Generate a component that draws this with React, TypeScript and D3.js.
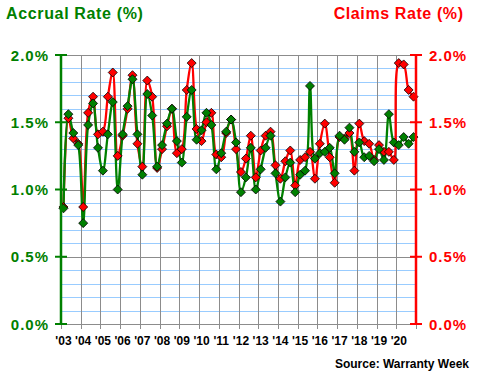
import React from 'react';
import * as d3 from 'd3';

const yearLabels = ["'03", "'04", "'05", "'06", "'07", "'08", "'09", "'10", "'11", "'12", "'13", "'14", "'15", "'16", "'17", "'18", "'19", "'20"];

// Quarterly accrual rate (%), 2003 Q1 - 2020 Q4
const accrual = [
  0.86, 1.56, 1.42, 1.33,
  0.75, 1.48, 1.64, 1.31,
  1.14, 1.41, 1.65, 1.00,
  1.41, 1.62, 1.82, 1.41,
  1.11, 1.71, 1.55, 1.17,
  1.33, 1.49, 1.60, 1.36,
  1.20, 1.54, 1.74, 1.37,
  1.44, 1.57, 1.48, 1.15,
  1.27, 1.43, 1.52, 1.35,
  0.98, 1.09, 1.31, 1.00,
  1.15, 1.31, 1.40, 1.12,
  0.91, 1.09, 1.20, 0.98,
  1.11, 1.14, 1.77, 1.23,
  1.27, 1.28, 1.31, 1.12,
  1.40, 1.37, 1.46, 1.28,
  1.35, 1.24, 1.25, 1.21,
  1.30, 1.22, 1.56, 1.35,
  1.33, 1.39, 1.34, 1.39,
];

// Quarterly claims rate (%), 2003 Q1 - 2020 Q4
const claims = [
  0.87, 1.53, 1.38, 1.34,
  0.87, 1.57, 1.69, 1.41,
  1.43, 1.69, 1.87, 1.25,
  1.40, 1.60, 1.85, 1.34,
  1.17, 1.81, 1.69, 1.16,
  1.30, 1.47, 1.60, 1.27,
  1.30, 1.74, 1.94, 1.45,
  1.36, 1.50, 1.57, 1.26,
  1.24, 1.42, 1.52, 1.30,
  1.13, 1.23, 1.40, 1.09,
  1.29, 1.40, 1.43, 1.18,
  1.08, 1.21, 1.29, 1.03,
  1.22, 1.24, 1.28, 1.08,
  1.34, 1.49, 1.24, 1.05,
  1.39, 1.38, 1.42, 1.14,
  1.49, 1.36, 1.34, 1.22,
  1.33, 1.28, 1.28, 1.22,
  1.94, 1.93, 1.74, 1.69,
];

const yTicks = [0, 0.5, 1.0, 1.5, 2.0];

const GREEN = '#008000';
const RED = '#ff0000';
const FONT = '"Liberation Sans", Arial, sans-serif';

export default function App() {
  const W = 480, H = 380;
  const left = 61, right = 416, top = 55, bottom = 324;
  const n = accrual.length;
  const x = d3.scaleLinear().domain([0, n]).range([left, right]);
  const y = d3.scaleLinear().domain([0, 2]).range([bottom, top]);
  const xc = (i: number) => x(i + 0.5);
  const line = d3.line<number>().x((_, i) => xc(i)).y(d => y(d)).curve(d3.curveCatmullRom.alpha(0.5));
  const minor = d3.range(1, 20).filter(k => k % 5 !== 0).map(k => k / 10);
  const major = [0.5, 1.0, 1.5, 2.0];
  const yearIdx = d3.range(0, yearLabels.length + 1);
  const diamond = 'M0,-4.5L4.5,0L0,4.5L-4.5,0Z';
  const fmt = d3.format('.1f');

  return (
    <div style={{ position: 'fixed', left: 0, top: 0 }}>
      <svg width={W} height={H} style={{ display: 'block', background: '#fff' }}>
        <rect x={0} y={0} width={W} height={H} fill="#fff" />
        {/* minor grid */}
        {minor.map(v => (
          <line key={'mn' + v} x1={left} x2={right} y1={Math.round(y(v)) + 0.5} y2={Math.round(y(v)) + 0.5} stroke="#99ccff" strokeWidth={1} />
        ))}
        {/* major grid */}
        {major.map(v => (
          <line key={'mj' + v} x1={left} x2={right} y1={Math.round(y(v)) + 0.5} y2={Math.round(y(v)) + 0.5} stroke="#8c8c8c" strokeWidth={1} />
        ))}
        {/* vertical grid */}
        {yearIdx.slice(1, yearLabels.length).map(k => (
          <line key={'vg' + k} x1={Math.round(x(4 * k)) + 0.5} x2={Math.round(x(4 * k)) + 0.5} y1={top} y2={bottom} stroke="#8c8c8c" strokeWidth={1} />
        ))}
        {/* bottom axis */}
        <line x1={left} x2={right} y1={bottom + 0.5} y2={bottom + 0.5} stroke="#8c8c8c" strokeWidth={1} />
        {yearIdx.map(k => (
          <line key={'xt' + k} x1={Math.round(x(4 * k)) + 0.5} x2={Math.round(x(4 * k)) + 0.5} y1={bottom} y2={bottom + 5} stroke="#8c8c8c" strokeWidth={1} />
        ))}
        {yearLabels.map((lab, k) => (
          <text key={'xl' + k} x={xc(4 * k)} y={345} textAnchor="middle" fontFamily={FONT} fontWeight="bold" fontSize={12} fill="#000">{lab}</text>
        ))}

        {/* claims series */}
        <path d={line(claims) || ''} fill="none" stroke={RED} strokeWidth={2.3} />
        {/* accrual series */}
        <path d={line(accrual) || ''} fill="none" stroke={GREEN} strokeWidth={2.3} />
        {claims.map((v, i) => (
          <path key={'cm' + i} d={diamond} transform={`translate(${xc(i)},${y(v)})`} fill={RED} stroke="#000" strokeWidth={0.8} />
        ))}
        {accrual.map((v, i) => (
          <path key={'am' + i} d={diamond} transform={`translate(${xc(i)},${y(v)})`} fill={GREEN} stroke="#000" strokeWidth={0.8} />
        ))}

        {/* left axis */}
        <line x1={left} x2={left} y1={top} y2={bottom} stroke={GREEN} strokeWidth={2.5} />
        {yTicks.map(v => (
          <g key={'ly' + v}>
            <line x1={left - 6} x2={left + 6} y1={y(v)} y2={y(v)} stroke={GREEN} strokeWidth={2} />
            <text x={49} y={y(v) + 5.5} textAnchor="end" letterSpacing={1} fontFamily={FONT} fontWeight="bold" fontSize={15} fill={GREEN}>{fmt(v)}%</text>
          </g>
        ))}
        {/* right axis */}
        <line x1={right} x2={right} y1={top} y2={bottom} stroke={RED} strokeWidth={2.5} />
        {yTicks.map(v => (
          <g key={'ry' + v}>
            <line x1={right - 6} x2={right + 6} y1={y(v)} y2={y(v)} stroke={RED} strokeWidth={2} />
            <text x={429} y={y(v) + 5.5} textAnchor="start" letterSpacing={1} fontFamily={FONT} fontWeight="bold" fontSize={15} fill={RED}>{fmt(v)}%</text>
          </g>
        ))}

        {/* titles */}
        <text x={6} y={19} letterSpacing={0.65} fontFamily={FONT} fontWeight="bold" fontSize={16} fill={GREEN}>Accrual Rate (%)</text>
        <text x={463.6} y={19} textAnchor="end" letterSpacing={0.6} fontFamily={FONT} fontWeight="bold" fontSize={16} fill={RED}>Claims Rate (%)</text>
        <text x={469} y={368} textAnchor="end" fontFamily={FONT} fontWeight="bold" fontSize={12} fill="#000">Source: Warranty Week</text>
      </svg>
    </div>
  );
}
